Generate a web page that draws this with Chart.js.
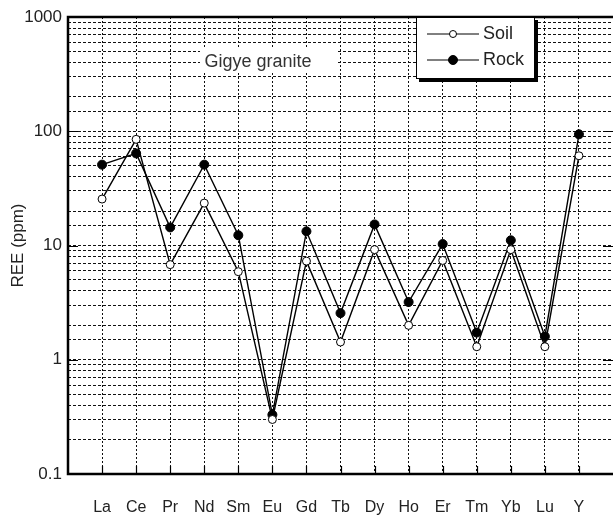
<!DOCTYPE html>
<html>
<head>
<meta charset="utf-8">
<title>Gigye granite REE</title>
<script src="https://cdn.jsdelivr.net/npm/chart.js@4.4.1/dist/chart.umd.min.js"></script>
<style>
  html, body { margin: 0; padding: 0; background: #fff; }
  #wrap { width: 613px; height: 515px; }
</style>
</head>
<body>
<div id="wrap"><canvas id="reeChart" width="613" height="515"></canvas></div>
<script>
// Element order along the x axis
const categories = ['La', 'Ce', 'Pr', 'Nd', 'Sm', 'Eu', 'Gd', 'Tb', 'Dy', 'Ho', 'Er', 'Tm', 'Yb', 'Lu', 'Y'];

// Concentrations (ppm)
const soilValues = [25.5, 85, 6.8, 23.5, 5.9, 0.30, 7.3, 1.43, 9.2, 2.0, 7.4, 1.3, 9.2, 1.3, 61];
const rockValues = [51, 64, 14.4, 51, 12.3, 0.33, 13.3, 2.56, 15.3, 3.2, 10.3, 1.73, 11.1, 1.6, 94];

// Labelled decades on the log axis
const yTickLabels = [0.1, 1, 10, 100, 1000];

const FONT = "'Liberation Sans', Arial, sans-serif";
const TEXT = '#222';

function toPoints(values) {
    return values.map((v, i) => ({ x: i + 1, y: v }));
}

function isDecade(v) {
    return yTickLabels.some(t => Math.abs(Math.log10(v) - Math.log10(t)) < 1e-6);
}

// Frame, inward ticks, caption and legend box
const framePlugin = {
    id: 'frame',
    afterDatasetsDraw(chart) {
        const ctx = chart.ctx;
        const area = chart.chartArea;
        const xs = chart.scales.x;
        const ys = chart.scales.y;

        ctx.save();
        ctx.strokeStyle = '#000';
        ctx.lineWidth = 1.2;
        ctx.setLineDash([]);

        // decade ticks on both sides
        yTickLabels.forEach(t => {
            const py = Math.round(ys.getPixelForValue(t)) + 0.5;
            ctx.beginPath();
            ctx.moveTo(area.left, py);
            ctx.lineTo(area.left + 10, py);
            ctx.moveTo(area.right - 10, py);
            ctx.lineTo(area.right, py);
            ctx.stroke();
        });

        // category ticks along the bottom
        categories.forEach((c, i) => {
            const px = Math.round(xs.getPixelForValue(i + 1)) + 0.5;
            ctx.beginPath();
            ctx.moveTo(px, area.bottom);
            ctx.lineTo(px, area.bottom - 8);
            ctx.stroke();
        });

        // axes frame
        ctx.lineWidth = 2.5;
        ctx.beginPath();
        ctx.moveTo(area.right, area.top);
        ctx.lineTo(area.left, area.top);
        ctx.lineTo(area.left, area.bottom);
        ctx.lineTo(area.right, area.bottom);
        ctx.stroke();

        // caption
        ctx.fillStyle = '#fff';
        ctx.fillRect(200, 48, 138, 25);
        ctx.fillStyle = '#333';
        ctx.font = '18px ' + FONT;
        ctx.textAlign = 'center';
        ctx.textBaseline = 'middle';
        ctx.fillText('Gigye granite', 258, 62);

        // legend box with drop shadow
        const lx = 416, ly = 17, lw = 119, lh = 62;
        ctx.fillStyle = '#000';
        ctx.fillRect(lx + 3, ly + 3, lw, lh);
        ctx.fillStyle = '#fff';
        ctx.fillRect(lx, ly, lw, lh);
        ctx.lineWidth = 1;
        ctx.strokeStyle = '#000';
        ctx.strokeRect(lx + 0.5, ly + 0.5, lw - 1, lh - 1);

        chart.data.datasets.forEach((ds, i) => {
            const ry = 34 + i * 26;
            ctx.lineWidth = 1;
            ctx.beginPath();
            ctx.moveTo(427, ry);
            ctx.lineTo(479, ry);
            ctx.stroke();
            ctx.beginPath();
            ctx.arc(453, ry, i === 0 ? 3.5 : 4.5, 0, Math.PI * 2);
            ctx.fillStyle = ds.pointBackgroundColor;
            ctx.fill();
            ctx.stroke();
            ctx.fillStyle = TEXT;
            ctx.font = '18px ' + FONT;
            ctx.textAlign = 'left';
            ctx.textBaseline = 'middle';
            ctx.fillText(ds.label, 483, ry);
        });

        ctx.restore();
    }
};

const ctx = document.getElementById('reeChart').getContext('2d');
new Chart(ctx, {
    type: 'line',
    data: {
        datasets: [
            {
                label: 'Soil',
                data: toPoints(soilValues),
                borderColor: '#000',
                borderWidth: 1.4,
                pointRadius: 4,
                pointBorderWidth: 1,
                pointBackgroundColor: '#fff',
                pointBorderColor: '#000',
                tension: 0
            },
            {
                label: 'Rock',
                data: toPoints(rockValues),
                borderColor: '#000',
                borderWidth: 1.4,
                pointRadius: 4.5,
                pointBorderWidth: 1,
                pointBackgroundColor: '#000',
                pointBorderColor: '#000',
                tension: 0
            }
        ]
    },
    options: {
        responsive: false,
        animation: false,
        layout: { autoPadding: false, padding: { top: 17, right: 0, bottom: 0, left: 0 } },
        plugins: {
            legend: { display: false },
            tooltip: { enabled: false }
        },
        scales: {
            x: {
                type: 'linear',
                min: 0,
                max: categories.length + 1,
                afterFit: scale => {
                    scale.height = 41;
                    scale.paddingLeft = 0;
                    scale.paddingRight = 0;
                },
                border: { display: false, dash: [2, 2] },
                grid: { color: '#111', lineWidth: 1, drawTicks: false },
                ticks: {
                    stepSize: 1,
                    autoSkip: false,
                    maxRotation: 0,
                    padding: 24,
                    color: TEXT,
                    font: { family: FONT, size: 16 },
                    callback: v => categories[v - 1] || ''
                }
            },
            y: {
                type: 'logarithmic',
                min: 0.1,
                max: 1000,
                afterFit: scale => {
                    scale.width = 68;
                    scale.paddingTop = 0;
                    scale.paddingBottom = 0;
                },
                border: { display: false, dash: [3, 2] },
                grid: { color: '#111', lineWidth: 1, drawTicks: false },
                ticks: {
                    autoSkip: false,
                    padding: 6,
                    color: TEXT,
                    font: { family: FONT, size: 17 },
                    callback: v => isDecade(v) ? String(v) : ''
                },
                title: {
                    display: true,
                    text: 'REE (ppm)',
                    color: TEXT,
                    font: { family: FONT, size: 17 },
                    padding: { top: 8, bottom: 0 }
                }
            }
        }
    },
    plugins: [framePlugin]
});
</script>
</body>
</html>
